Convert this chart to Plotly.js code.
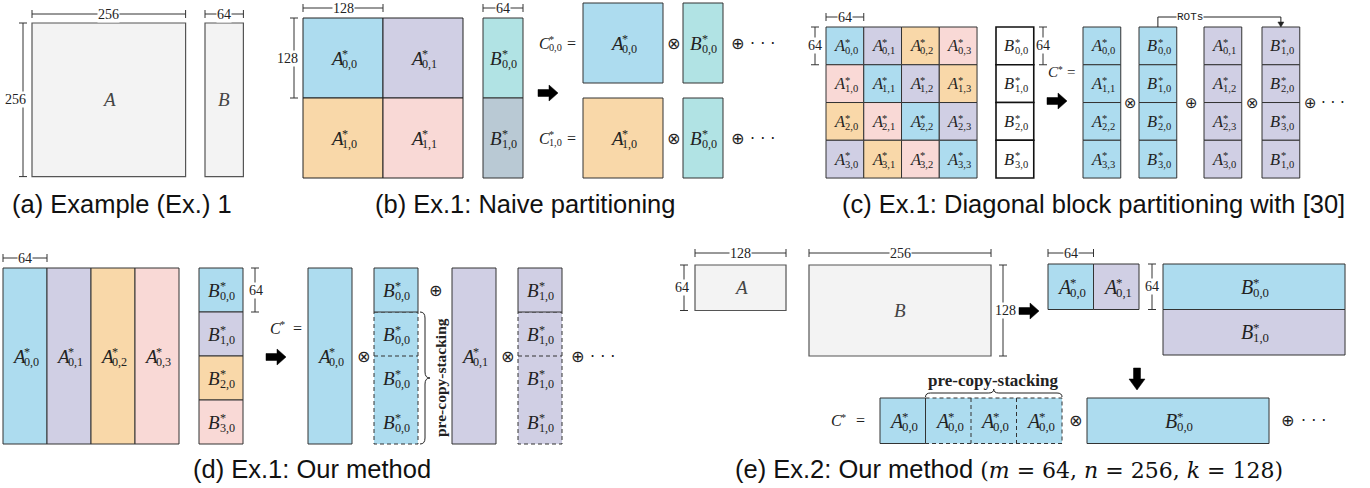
<!DOCTYPE html>
<html><head><meta charset="utf-8">
<script src="https://cdn.plot.ly/plotly-3.0.1.min.js"></script>
<style>html,body{margin:0;padding:0;background:#fff}</style>
</head><body><div id="fig" style="width:1370px;height:488px"></div>
<script>
// Matrix shapes (rows, cols) for the two examples
const ex1A = [256, 256];
const ex1B = [256, 64];
const ex2A = [64, 128];
const ex2B = [128, 256];
const naiveBlock = 128;
const diagBlock = 64;

// Block labels (subscripts) per panel
const naiveALabels = [['0,0', '0,1'], ['1,0', '1,1']];
const naiveAColors = [['blue', 'lav'], ['peach', 'pink']];
const naiveBLabels = ['0,0', '1,0'];
const naiveBColors = ['teal', 'slate'];
const naiveEqC = ['0,0', '1,0'];
const naiveEqA = ['0,0', '1,0'];
const naiveEqAColors = ['blue', 'peach'];
const naiveEqB = ['0,0', '0,0'];

const diagALabels = [
  ['0,0', '0,1', '0,2', '0,3'],
  ['1,0', '1,1', '1,2', '1,3'],
  ['2,0', '2,1', '2,2', '2,3'],
  ['3,0', '3,1', '3,2', '3,3']];
const diagAColors = [
  ['blue', 'lav', 'peach', 'pink'],
  ['pink', 'blue', 'lav', 'peach'],
  ['peach', 'pink', 'blue', 'lav'],
  ['lav', 'peach', 'pink', 'blue']];
const diagBLabels = ['0,0', '1,0', '2,0', '3,0'];
const diagTermBases = ['A', 'B', 'A', 'B'];
const diagTermColors = ['blue', 'blue', 'lav', 'lav'];
const diagTermLabels = [
  ['0,0', '1,1', '2,2', '3,3'],
  ['0,0', '1,0', '2,0', '3,0'],
  ['0,1', '1,2', '2,3', '3,0'],
  ['1,0', '2,0', '3,0', '1,0']];

const oursALabels = ['0,0', '0,1', '0,2', '0,3'];
const oursBLabels = ['0,0', '1,0', '2,0', '3,0'];
const oursColors = ['blue', 'lav', 'peach', 'pink'];
const oursTermA = ['0,0', '0,1'];
const oursTermB = ['0,0', '1,0'];
const oursTermColors = ['blue', 'lav'];

const ex2ALabels = ['0,0', '0,1'];
const ex2BLabels = ['0,0', '1,0'];
const ex2Colors = ['blue', 'lav'];
const stackCopies = 4;

const captions = [
  '(a) Example (Ex.) 1',
  '(b) Ex.1: Naive partitioning',
  '(c) Ex.1: Diagonal block partitioning with [30]',
  '(d) Ex.1: Our method',
  "(e) Ex.2: Our method <span style=\"font-family:'DejaVu Serif',serif;font-size:22px\">(<i>m</i> = 64, <i>n</i> = 256, <i>k</i> = 128)</span>"];

const COL = {
  blue: '#addcef', lav: '#d0cfe4', peach: '#f9d8a9', pink: '#f9d9d6',
  teal: '#b1e3e4', slate: '#b9c9d4', gray: '#f3f3f3', white: '#ffffff'
};
const SERIF = "'Liberation Serif', 'DejaVu Serif', serif";
const SANS = "'Liberation Sans', Arial, sans-serif";
const SYM = "'DejaVu Sans', sans-serif";
const INK = '#222';

const shapes = [];
const ann = [];

function rect(x0, y0, x1, y1, fill, lc, lw, dash) {
  shapes.push({type: 'rect', xref: 'x', yref: 'y', x0, y0, x1, y1,
    fillcolor: fill, line: {color: lc || INK, width: lw == null ? 1 : lw, dash: dash || 'solid'}});
}
function seg(x0, y0, x1, y1, lc, lw, dash) {
  shapes.push({type: 'line', xref: 'x', yref: 'y', x0, y0, x1, y1,
    line: {color: lc || INK, width: lw || 1, dash: dash || 'solid'}});
}
function path(d, fill, lc, lw) {
  shapes.push({type: 'path', xref: 'x', yref: 'y', path: d,
    fillcolor: fill || 'rgba(0,0,0,0)', line: {color: lc || INK, width: lw == null ? 1 : lw}});
}
function txt(x, y, t, size, o) {
  o = o || {};
  ann.push({x, y, xref: 'x', yref: 'y', text: t, showarrow: false,
    xanchor: o.xa || 'center', yanchor: o.ya || 'middle', textangle: o.angle || 0,
    bgcolor: o.bg || 'rgba(0,0,0,0)', borderpad: 0,
    font: {family: o.family || SERIF, size, color: o.color || INK,
      style: o.italic ? 'italic' : 'normal', weight: o.bold ? 'bold' : 'normal'}});
}
// Letter with stacked * superscript and index subscript
function math(x, y, base, sub, size, left) {
  const ss = size * 0.64;
  const wb = size * 0.64;
  const nd = sub.replace(/,/g, '').length;
  const ws = sub ? ss * (nd * 0.5 + 0.25) : ss * 0.5;
  const L = left ? x : x - (wb + ws) / 2;
  txt(L, y, base, size, {xa: 'left', italic: true});
  txt(L + wb, y - size * 0.2, '*', ss, {xa: 'left'});
  if (sub) txt(L + wb, y + size * 0.3, sub, ss, {xa: 'left'});
}
function dimH(x0, x1, y, label) {
  seg(x0, y, x1, y, '#333', 1);
  seg(x0, y - 4, x0, y + 4, '#333', 1);
  seg(x1, y - 4, x1, y + 4, '#333', 1);
  txt((x0 + x1) / 2, y, String(label), 14, {bg: '#fff'});
}
function dimV(x, y0, y1, label, lx) {
  seg(x, y0, x, y1, '#333', 1);
  seg(x - 4, y0, x + 4, y0, '#333', 1);
  seg(x - 4, y1, x + 4, y1, '#333', 1);
  txt(lx == null ? x : lx, (y0 + y1) / 2, String(label), 14, {bg: '#fff'});
}
function arrowR(cx, cy) {
  path(`M ${cx - 10} ${cy - 3.5} L ${cx + 1} ${cy - 3.5} L ${cx + 1} ${cy - 8} L ${cx + 10} ${cy} ` +
       `L ${cx + 1} ${cy + 8} L ${cx + 1} ${cy + 3.5} L ${cx - 10} ${cy + 3.5} Z`, '#000', '#000', 0.5);
}
function arrowD(cx, cy) {
  path(`M ${cx - 3.5} ${cy - 11} L ${cx + 3.5} ${cy - 11} L ${cx + 3.5} ${cy} L ${cx + 8} ${cy} ` +
       `L ${cx} ${cy + 11} L ${cx - 8} ${cy} L ${cx - 3.5} ${cy} Z`, '#000', '#000', 0.5);
}
function op(x, y, t, size) { txt(x, y, t, size || 16, {family: SYM}); }

/* (a) the two operand matrices */
(function () {
  const s = 0.6, x0 = 32, y0 = 23, bx = 205;
  const w = ex1A[1] * s, h = ex1A[0] * s, bw = ex1B[1] * s;
  rect(x0, y0, x0 + w, y0 + h, COL.gray, '#555', 1.2);
  rect(bx, y0, bx + bw, y0 + h, COL.gray, '#555', 1.2);
  txt(x0 + w / 2, y0 + h / 2, 'A', 19, {italic: true, color: '#444'});
  txt(bx + bw / 2, y0 + h / 2, 'B', 19, {italic: true, color: '#444'});
  dimH(x0, x0 + w, 14, ex1A[1]);
  dimV(23, y0, y0 + h, ex1A[0], 15);
  dimH(bx, bx + bw, 14, ex1B[1]);
})();

/* (b) naive 2x2 partitioning */
(function () {
  const s = 0.625, x0 = 303, y0 = 18, c = naiveBlock * s;
  const bx = 483, bw = ex1B[1] * s;
  for (let i = 0; i < 2; i++) for (let j = 0; j < 2; j++) {
    rect(x0 + j * c, y0 + i * c, x0 + (j + 1) * c, y0 + (i + 1) * c, COL[naiveAColors[i][j]], INK, 1);
    math(x0 + (j + 0.5) * c, y0 + (i + 0.5) * c, 'A', naiveALabels[i][j], 19);
  }
  for (let i = 0; i < 2; i++) {
    rect(bx, y0 + i * c, bx + bw, y0 + (i + 1) * c, COL[naiveBColors[i]], '#333', 1);
    math(bx + bw / 2, y0 + (i + 0.5) * c, 'B', naiveBLabels[i], 19);
  }
  dimH(x0, x0 + c, 8, naiveBlock);
  dimV(294, y0, y0 + c, naiveBlock, 287);
  dimH(bx, bx + bw, 8, ex1B[1]);
  arrowR(548, 93);
  const rowsY = [3, 98], ax = 583, bx2 = 683;
  for (let r = 0; r < 2; r++) {
    const yt = rowsY[r], cy = yt + c / 2;
    math(538, cy, 'C', naiveEqC[r], 16, true);
    txt(571, cy, '=', 16);
    rect(ax, yt, ax + c, yt + c, COL[naiveEqAColors[r]], '#333', 1);
    math(ax + c / 2, cy, 'A', naiveEqA[r], 19);
    op(673, cy, '⊗');
    rect(bx2, yt, bx2 + bw, yt + c, COL.teal, '#333', 1);
    math(bx2 + bw / 2, cy, 'B', naiveEqB[r], 19);
    op(737, cy, '⊕');
    txt(762, cy, '· · ·', 16, {family: SYM});
  }
})();

/* (c) diagonal block partitioning */
(function () {
  const s = 0.59, x0 = 826, y0 = 27, c = diagBlock * s, bx = 996;
  for (let i = 0; i < 4; i++) for (let j = 0; j < 4; j++) {
    rect(x0 + j * c, y0 + i * c, x0 + (j + 1) * c, y0 + (i + 1) * c, COL[diagAColors[i][j]], '#333', 1);
    math(x0 + (j + 0.5) * c, y0 + (i + 0.5) * c, 'A', diagALabels[i][j], 16.5);
  }
  for (let i = 0; i < 4; i++) {
    rect(bx, y0 + i * c, bx + c, y0 + (i + 1) * c, COL.white, '#111', 1.6);
    math(bx + c / 2, y0 + (i + 0.5) * c, 'B', diagBLabels[i], 16.5);
  }
  dimH(x0, x0 + c, 17, diagBlock);
  dimV(815, y0, y0 + c, diagBlock, 815);
  dimV(1043, y0, y0 + c, diagBlock, 1043);
  math(1047, 72, 'C', '', 15, true);
  txt(1071, 72, '=', 15);
  arrowR(1057, 101);
  const xs = [1083, 1139, 1204, 1262];
  for (let k = 0; k < 4; k++) for (let i = 0; i < 4; i++) {
    rect(xs[k], y0 + i * c, xs[k] + c, y0 + (i + 1) * c, COL[diagTermColors[k]], '#333', 1);
    math(xs[k] + c / 2, y0 + (i + 0.5) * c, diagTermBases[k], diagTermLabels[k][i], 16.5);
  }
  const my = y0 + 2 * c;
  op(1130, my, '⊗', 15);
  op(1191, my, '⊕', 15);
  op(1252, my, '⊗', 15);
  op(1310, my, '⊕', 15);
  txt(1333, my, '· · ·', 15, {family: SYM});
  const a = xs[1] + c / 2, b = xs[3] + c / 2;
  path(`M ${a} ${y0} V 17 H ${b} V ${y0 - 4}`, null, '#222', 1);
  path(`M ${b - 3} ${y0 - 5} L ${b + 3} ${y0 - 5} L ${b} ${y0} Z`, '#222', '#222', 0.5);
  txt(1190, 17, 'ROTs', 11, {family: "'Liberation Mono', monospace", bg: '#fff'});
})();

/* (d) our method on Ex.1 */
(function () {
  const s = 0.6875, x0 = 3, y0 = 268, c = diagBlock * s, h = ex1A[0] * s;
  for (let j = 0; j < 4; j++) {
    rect(x0 + j * c, y0, x0 + (j + 1) * c, y0 + h, COL[oursColors[j]], '#333', 1);
    math(x0 + (j + 0.5) * c, y0 + h / 2, 'A', oursALabels[j], 19);
  }
  const bx = 199;
  for (let i = 0; i < 4; i++) {
    rect(bx, y0 + i * c, bx + c, y0 + (i + 1) * c, COL[oursColors[i]], '#333', 1);
    math(bx + c / 2, y0 + (i + 0.5) * c, 'B', oursBLabels[i], 19);
  }
  dimH(x0, x0 + c, 258, diagBlock);
  dimV(255, y0, y0 + c, diagBlock, 256);
  math(269, 328, 'C', '', 16, true);
  txt(297, 328, '=', 16);
  arrowR(276, 357);
  const my = y0 + h / 2;
  const aX = [308, 452], bX = [374, 518];
  for (let t = 0; t < 2; t++) {
    const col = COL[oursTermColors[t]];
    rect(aX[t], y0, aX[t] + c, y0 + h, col, '#333', 1);
    math(aX[t] + c / 2, my, 'A', oursTermA[t], 19);
    rect(bX[t], y0 + c, bX[t] + c, y0 + h, col, '#333', 1, '4px,3px');
    seg(bX[t], y0 + 2 * c, bX[t] + c, y0 + 2 * c, '#333', 1, '4px,3px');
    rect(bX[t], y0, bX[t] + c, y0 + c, col, '#333', 1);
    for (let k = 0; k < stackCopies; k++) math(bX[t] + c / 2, y0 + (k + 0.5) * c, 'B', oursTermB[t], 19);
    op(aX[t] + c + 11, my, '⊗');
  }
  // brace for copies of B
  const bt = y0 + c, bb = y0 + h, bm = (bt + bb) / 2, xb = bX[0] + c + 2;
  path(`M ${xb} ${bt} Q ${xb + 5} ${bt} ${xb + 5} ${bt + 6} L ${xb + 5} ${bm - 6} Q ${xb + 5} ${bm} ${xb + 10} ${bm} ` +
       `Q ${xb + 5} ${bm} ${xb + 5} ${bm + 6} L ${xb + 5} ${bb - 6} Q ${xb + 5} ${bb} ${xb} ${bb}`, null, '#222', 1);
  txt(440, bm, 'pre-copy-stacking', 15.5, {angle: -90, bold: true});
  op(435, 290, '⊕');
  op(577, my, '⊕');
  txt(602, my, '· · ·', 16, {family: SYM});
})();

/* (e) our method on Ex.2 */
(function () {
  const s = 0.711, ax = 695, y0 = 265, bx = 809;
  const aw = ex2A[1] * s, ah = ex2A[0] * s, bw = ex2B[1] * s, bh = ex2B[0] * s;
  rect(ax, y0, ax + aw, y0 + ah, COL.gray, '#555', 1.2);
  txt(ax + aw / 2, y0 + ah / 2, 'A', 19, {italic: true, color: '#444'});
  rect(bx, y0, bx + bw, y0 + bh, COL.gray, '#555', 1.2);
  txt(bx + bw / 2, y0 + bh / 2, 'B', 19, {italic: true, color: '#444'});
  dimH(ax, ax + aw, 253, ex2A[1]);
  dimV(684, y0, y0 + ah, ex2A[0], 682);
  dimH(bx, bx + bw, 253, ex2B[1]);
  dimV(1003, y0, y0 + bh, ex2B[0], 1005);
  arrowR(1029, 311);

  const c = diagBlock * s, px = 1048, py = 264;
  for (let j = 0; j < 2; j++) {
    rect(px + j * c, py, px + (j + 1) * c, py + c, COL[ex2Colors[j]], '#333', 1);
    math(px + (j + 0.5) * c, py + c / 2, 'A', ex2ALabels[j], 20);
  }
  dimH(px, px + c, 253, diagBlock);
  dimV(1152, py, py + c, diagBlock, 1152);
  const pbx = 1163;
  for (let i = 0; i < 2; i++) {
    rect(pbx, py + i * c, pbx + bw, py + (i + 1) * c, COL[ex2Colors[i]], '#333', 1);
    math(pbx + bw / 2, py + (i + 0.5) * c, 'B', ex2BLabels[i], 20);
  }
  arrowD(1137, 379);

  const ry = 398, rx = 880, cy = ry + c / 2;
  math(830, cy, 'C', '', 16, true);
  txt(860, cy, '=', 16);
  rect(rx + c, ry, rx + stackCopies * c, ry + c, COL.blue, '#333', 1, '4px,3px');
  for (let k = 2; k < stackCopies; k++) seg(rx + k * c, ry, rx + k * c, ry + c, '#333', 1, '4px,3px');
  rect(rx, ry, rx + c, ry + c, COL.blue, '#333', 1);
  for (let k = 0; k < stackCopies; k++) math(rx + (k + 0.5) * c, cy, 'A', '0,0', 20);
  const l = rx + c, r = rx + stackCopies * c, m = (l + r) / 2, yb = ry - 1;
  path(`M ${l} ${yb} Q ${l} ${yb - 4} ${l + 5} ${yb - 4} L ${m - 5} ${yb - 4} Q ${m} ${yb - 4} ${m} ${yb - 8} ` +
       `Q ${m} ${yb - 4} ${m + 5} ${yb - 4} L ${r - 5} ${yb - 4} Q ${r} ${yb - 4} ${r} ${yb}`, null, '#222', 1);
  txt(m, 380, 'pre-copy-stacking', 17, {bold: true});
  op(1075, cy, '⊗');
  const bb = 1087;
  rect(bb, ry, bb + bw, ry + c, COL.blue, '#333', 1);
  math(bb + bw / 2, cy, 'B', '0,0', 20);
  op(1287, cy, '⊕');
  txt(1313, cy, '· · ·', 16, {family: SYM});
})();

/* captions */
const capPos = [[122, 204], [525, 204], [1093, 204], [312, 469], [1009, 469]];
captions.forEach((t, i) => txt(capPos[i][0], capPos[i][1], t, 25.5, {family: SANS, color: '#111'}));

Plotly.newPlot('fig', [], {
  width: 1370, height: 488,
  margin: {l: 0, r: 0, t: 0, b: 0},
  paper_bgcolor: '#fff', plot_bgcolor: '#fff',
  xaxis: {range: [0, 1370], visible: false, fixedrange: true},
  yaxis: {range: [488, 0], visible: false, fixedrange: true},
  shapes: shapes, annotations: ann, showlegend: false
}, {staticPlot: true, displayModeBar: false});
</script></body></html>
